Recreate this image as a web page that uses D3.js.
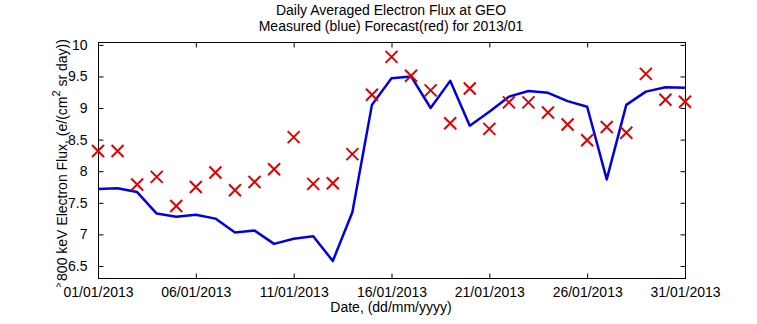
<!DOCTYPE html>
<html><head><meta charset="utf-8">
<script src="https://cdn.jsdelivr.net/npm/d3@7"></script>
<style>body{margin:0;background:#fff}svg text{font-family:"Liberation Sans",Arial,sans-serif;fill:#000}</style>
</head><body>
<script>
const days = d3.range(1, 32);
const measured = [7.72,7.73,7.67,7.33,7.28,7.31,7.25,7.03,7.06,6.85,6.93,6.97,6.58,7.35,9.05,9.47,9.50,9.00,9.43,8.72,8.94,9.18,9.27,9.24,9.11,9.02,7.87,9.05,9.26,9.33,9.32];
const forecast = [8.32,8.32,7.79,7.91,7.45,7.75,7.98,7.70,7.83,8.03,8.54,7.80,7.81,8.27,9.21,9.81,9.51,9.28,8.76,9.31,8.67,9.09,9.09,8.93,8.74,8.49,8.70,8.61,9.54,9.13,9.10];
const xTickDays = [1,6,11,16,21,26,31];
const xTickLabels = ["01/01/2013","06/01/2013","11/01/2013","16/01/2013","21/01/2013","26/01/2013","31/01/2013"];
const yTicks = [6.5,7,7.5,8,8.5,9,9.5,10];
const yTickLabels = ["6.5","7","7.5","8","8.5","9","9.5","10"];

const W=757,H=324, L=98, R=685, T=42, B=278;
const svg=d3.select("body").append("svg").attr("width",W).attr("height",H);
const x=d3.scaleLinear().domain([1,31]).range([L,R]);
const y=d3.scaleLinear().domain([6.31,10.045]).range([B,T]);

svg.append("rect").attr("x",L+0.5).attr("y",T+0.5).attr("width",R-L).attr("height",B-T)
  .attr("fill","none").attr("stroke","#000").attr("stroke-width",1);

const fs=14;
const gb=svg.append("g").attr("transform",`translate(0,${B+0.5})`)
  .call(d3.axisBottom(x).tickValues(xTickDays).tickFormat((d,i)=>xTickLabels[i]).tickSizeInner(-5).tickSizeOuter(0));
const gt=svg.append("g").attr("transform",`translate(0,${T+0.5})`)
  .call(d3.axisTop(x).tickValues(xTickDays).tickFormat("").tickSizeInner(-5).tickSizeOuter(0));
const gl=svg.append("g").attr("transform",`translate(${L+0.5},0)`)
  .call(d3.axisLeft(y).tickValues(yTicks).tickFormat((d,i)=>yTickLabels[i]).tickSizeInner(-5).tickSizeOuter(0).tickPadding(11));
const gr=svg.append("g").attr("transform",`translate(${R+0.5},0)`)
  .call(d3.axisRight(y).tickValues(yTicks).tickFormat("").tickSizeInner(-5).tickSizeOuter(0));
[gb,gt,gl,gr].forEach(g=>{g.select(".domain").remove();g.selectAll("line").attr("stroke","#000");
  g.selectAll("text").style("font-size",fs+"px").style("font-family",'"Liberation Sans",Arial,sans-serif').attr("fill","#000");});
gb.selectAll("text").attr("dy",null).attr("y",18);

svg.append("path").datum(days)
  .attr("fill","none").attr("stroke","#0000e6").attr("stroke-width",2.5).attr("stroke-linejoin","round")
  .attr("d",d3.line().x(d=>x(d)).y((d,i)=>y(measured[i])));

const s=6;
const mk=svg.append("g").attr("stroke","#e00000").attr("stroke-width",2);
days.forEach((d,i)=>{
  const cx=x(d), cy=y(forecast[i]);
  mk.append("path").attr("d",`M${cx-s},${cy-s}L${cx+s},${cy+s}M${cx-s},${cy+s}L${cx+s},${cy-s}`);
});

svg.append("text").attr("x",391).attr("y",15).attr("text-anchor","middle").style("font-size",fs+"px").text("Daily Averaged Electron Flux at GEO");
svg.append("text").attr("x",391).attr("y",31).attr("text-anchor","middle").style("font-size",fs+"px").text("Measured (blue) Forecast(red) for 2013/01");
svg.append("text").attr("x",391).attr("y",312).attr("text-anchor","middle").style("font-size",fs+"px").text("Date, (dd/mm/yyyy)");
const yl=svg.append("text").attr("transform","translate(67,160) rotate(-90)").attr("text-anchor","middle").style("font-size",fs+"px");
yl.append("tspan").text("800 keV Electron Flux, (e/(cm");
yl.append("tspan").attr("dy",-7).style("font-size","11px").text("2");
yl.append("tspan").attr("dy",7).text(" sr day))");
svg.append("text").attr("x",56).attr("y",291).style("font-size","11px").text("^");
</script>
</body></html>
